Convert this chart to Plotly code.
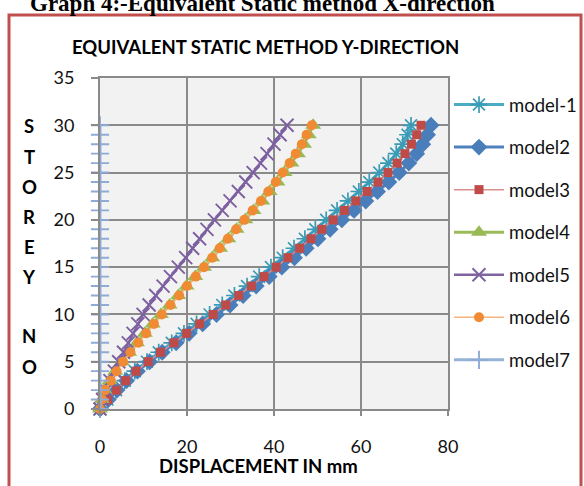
import plotly.graph_objects as go

# Storey numbers (ground = 0 up to roof = 30)
storeys = list(range(0, 31))

# Lateral displacement (mm) per storey, equivalent static method, Y-direction
model_1 = [0, 1.7, 3.7, 5.7, 8.0, 10.8, 13.5, 16.5, 19.3, 22.2, 25.2, 28.1, 30.9, 33.8, 36.6, 39.3,
           42.0, 44.6, 47.1, 49.5, 52.0, 54.5, 57.0, 59.5, 61.9, 64.2, 66.3, 68.1, 69.6, 70.7, 71.5]
model2 = [0, 1.9, 3.9, 6.1, 8.6, 11.4, 14.3, 17.5, 20.5, 23.6, 26.8, 29.9, 32.9, 35.9, 38.9, 41.8,
          44.7, 47.4, 50.1, 52.9, 55.6, 58.4, 61.1, 63.8, 66.4, 68.8, 71.0, 72.8, 74.2, 75.3, 76.1]
model3 = [0, 1.8, 3.8, 5.9, 8.3, 11.1, 13.9, 17.0, 19.9, 22.9, 26.0, 28.9, 31.9, 34.8, 37.7, 40.5,
          43.2, 45.9, 48.5, 51.0, 53.6, 56.2, 58.8, 61.4, 63.9, 66.2, 68.3, 70.1, 71.6, 72.8, 73.8]
model4 = [0, 0.4, 1.0, 2.2, 3.5, 5.0, 6.7, 8.5, 10.3, 12.1, 14.0, 16.0, 18.0, 19.9, 21.9, 23.9,
          25.8, 27.6, 29.5, 31.4, 33.4, 35.3, 37.3, 39.0, 40.8, 42.4, 44.0, 45.5, 46.9, 48.0, 49.0]
model5 = [0, 0.6, 1.4, 2.3, 3.3, 4.3, 5.4, 6.5, 7.6, 8.7, 9.9, 11.3, 12.8, 14.5, 16.2, 18.0,
          19.7, 21.3, 22.9, 24.6, 26.3, 28.1, 29.9, 31.8, 33.5, 35.2, 36.9, 38.4, 40.0, 41.4, 43.0]
model6 = [0, 0.5, 1.2, 2.5, 3.8, 5.3, 7.0, 8.8, 10.6, 12.4, 14.2, 16.2, 18.2, 20.0, 22.0, 23.9,
          25.8, 27.5, 29.4, 31.3, 33.2, 35.1, 37.0, 38.7, 40.4, 42.0, 43.6, 45.0, 46.4, 47.5, 48.7]
model7 = [0, 0, 0, 0, 0, 0, 0, 0, 0, 0, 0, 0, 0, 0, 0, 0,
          0, 0, 0, 0, 0, 0, 0, 0, 0, 0, 0, 0, 0, 0, 0]

x_ticks = [0, 20, 40, 60, 80]
y_ticks = [0, 5, 10, 15, 20, 25, 30, 35]

# Stacked letters of the vertical axis title and their pixel rows
y_title_letters = ["S", "T", "O", "R", "E", "Y", "N", "O"]
y_title_rows = [126, 157, 187, 217, 247, 277, 336, 367]

# Canvas and plot-area geometry (pixels)
W, H = 584, 486
PL, PR, PT, PB = 100, 448, 78, 409


def px(x):
    return (x - PL) / (PR - PL)


def py(y):
    return (PB - y) / (PB - PT)


series = [
    ("model-1", model_1, dict(color="#4BACC6", width=3),
     dict(symbol="asterisk-open", size=14, color="#3A9BB6", line=dict(width=1.7, color="#3A9BB6"))),
    ("model2", model2, dict(color="#4F81BD", width=3),
     dict(symbol="diamond", size=13, color="#4A7EBB")),
    ("model3", model3, dict(color="#D9908E", width=1.5),
     dict(symbol="square", size=9, color="#BE4B48")),
    ("model4", model4, dict(color="#9BBB59", width=3),
     dict(symbol="triangle-up", size=14, color="#98B954")),
    ("model5", model5, dict(color="#8064A2", width=2.5),
     dict(symbol="x-thin-open", size=13, color="#7D60A0", line=dict(width=1.9, color="#7D60A0"))),
    ("model6", model6, dict(color="#F9B47F", width=1.5),
     dict(symbol="circle", size=10, color="#F08B33")),
    ("model7", model7, dict(color="#95B3D7", width=3),
     dict(symbol="cross-thin-open", size=13, color="#8EAAD6", line=dict(width=1.9, color="#8EAAD6"))),
]

fig = go.Figure()
for i, (name, xs, line, marker) in enumerate(series):
    fig.add_trace(go.Scatter(
        x=xs, y=storeys, name=name, mode="lines+markers",
        line=line, marker=marker, cliponaxis=False, legendgroup=f"g{i}",
    ))

grid = "#8A8A8A"
tick_font = dict(family="Lato", size=18, color="#111111")

annotations = [
    dict(text="<b>Graph 4:-Equivalent Static method X-direction</b>",
         xref="paper", yref="paper", x=px(262), y=py(3), xanchor="center", yanchor="middle",
         showarrow=False, font=dict(family="Liberation Serif", size=23, color="black")),
    dict(text="<b>EQUIVALENT STATIC METHOD Y-DIRECTION</b>",
         xref="paper", yref="paper", x=px(265), y=py(47), xanchor="center", yanchor="middle",
         showarrow=False, font=dict(family="Lato", size=18.5, color="black")),
    dict(text="<b>DISPLACEMENT IN mm</b>",
         xref="paper", yref="paper", x=px(258), y=py(466), xanchor="center", yanchor="middle",
         showarrow=False, font=dict(family="Lato", size=18.5, color="black")),
]
for letter, row in zip(y_title_letters, y_title_rows):
    annotations.append(dict(
        text=f"<b>{letter}</b>", xref="paper", yref="paper", x=px(29), y=py(row),
        xanchor="center", yanchor="middle", showarrow=False,
        font=dict(family="Lato", size=18.5, color="black"),
    ))

fig.update_layout(
    width=W, height=H,
    margin=dict(l=PL, r=W - PR, t=PT, b=H - PB, autoexpand=False),
    paper_bgcolor="white",
    plot_bgcolor="#F2F2F2",
    showlegend=True,
    legend=dict(
        x=px(449), y=py(86), xanchor="left", yanchor="top",
        font=dict(family="Lato", size=18.5, color="#111111"),
        tracegroupgap=15.5, bgcolor="rgba(0,0,0,0)", itemwidth=50,
    ),
    xaxis=dict(
        range=[0, 80], tickvals=x_ticks, showgrid=True, gridcolor=grid, gridwidth=1.8,
        zeroline=False, showline=True, linecolor=grid, linewidth=1.8, mirror=True,
        ticks="outside", ticklen=5, tickcolor=grid, tickwidth=1.8,
        tickfont=tick_font, ticklabelstandoff=15,
    ),
    yaxis=dict(
        range=[0, 35], tickvals=y_ticks, showgrid=True, gridcolor=grid, gridwidth=1.8,
        zeroline=False, showline=True, linecolor=grid, linewidth=1.8, mirror=True,
        ticks="outside", ticklen=7, tickcolor=grid, tickwidth=1.8,
        tickfont=tick_font, ticklabelstandoff=13,
    ),
    shapes=[
        dict(type="rect", xref="paper", yref="paper",
             x0=px(9), x1=px(581), y0=py(500), y1=py(15),
             line=dict(color="#C0504D", width=3), fillcolor="rgba(0,0,0,0)", layer="above"),
    ],
    annotations=annotations,
)

fig.write_html("out.html")
